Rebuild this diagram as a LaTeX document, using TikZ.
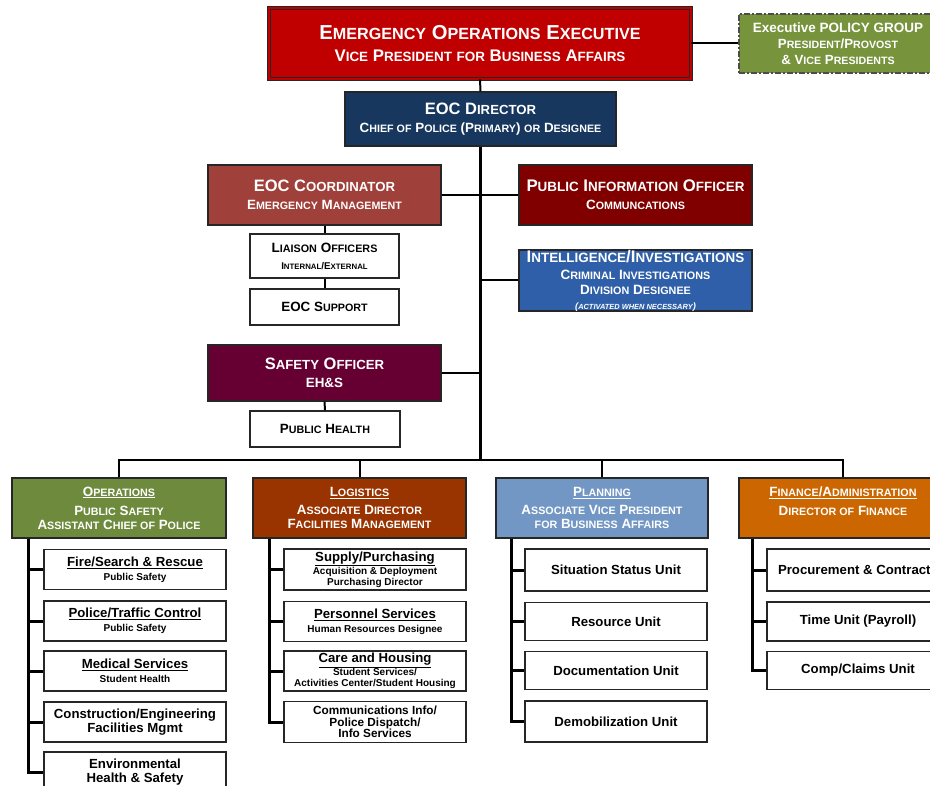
\documentclass[tikz,border=0pt]{standalone}
\usepackage{fontspec}
\setmainfont{Liberation Sans}
\usepackage{graphicx}
\usetikzlibrary{positioning}

\definecolor{execred}{HTML}{C00000}
\definecolor{policygreen}{HTML}{77933C}
\definecolor{dirnavy}{HTML}{17375E}
\definecolor{coordred}{HTML}{A0403A}
\definecolor{piored}{HTML}{800000}
\definecolor{intelblue}{HTML}{2E5FA8}
\definecolor{safetyplum}{HTML}{660033}
\definecolor{opsgreen}{HTML}{6E8B3D}
\definecolor{logbrown}{HTML}{993300}
\definecolor{planblue}{HTML}{7397C4}
\definecolor{finorange}{HTML}{CC6600}
\definecolor{edgegray}{HTML}{262626}

% fake small caps
\newcommand\sm[1]{\scalebox{0.8}{#1}}
\newcommand\fsz[1]{\fontsize{#1}{#1}\selectfont}

\tikzset{
  hdr/.style={draw=edgegray, line width=1.2pt, text=white, inner sep=0pt,
    align=center, font=\bfseries},
  sect/.style={hdr, minimum height=60pt,
    font=\bfseries\fontsize{13.4}{14}\selectfont},
  unit/.style={draw=edgegray, line width=1.2pt, fill=white, inner sep=0pt,
    minimum width=182pt, minimum height=40pt, align=center,
    font=\bfseries\fontsize{13.2}{14}\selectfont},
  link/.style={line width=2pt},
  trunk/.style={line width=2.8pt},
  rail/.style={line width=3pt, line join=miter},
}

\begin{document}
\begin{tikzpicture}[x=1pt, y=-1pt]
    \useasboundingbox (0,0) rectangle (930,786);
    \clip (0,0) rectangle (930,786);
    \fill[white] (0,0) rectangle (930,786);

    % top level
    \node[hdr, fill=execred, draw=black!85, double=execred, double distance=2pt,
      line width=0.9pt, minimum width=422pt, minimum height=71pt,
      font=\bfseries\fontsize{20.2}{22}\selectfont] (exec) at (480,43.5)
      {E\sm{MERGENCY} O\sm{PERATIONS} E\sm{XECUTIVE}\\
       {\fsz{16.8}V\sm{ICE} P\sm{RESIDENT} \sm{FOR} B\sm{USINESS} A\sm{FFAIRS}}};
    \node[hdr, fill=policygreen, draw=black!70, line width=1.2pt,
      dash pattern=on 6pt off 2pt on 2pt off 2pt,
      minimum width=198pt, minimum height=59pt,
      font=\bfseries\fontsize{13.5}{16}\selectfont] (policy) at (838,43.5)
      {Executive POLICY GROUP\\
       {\fsz{13.3}P\sm{RESIDENT}/P\sm{ROVOST}}\\
       {\fsz{13.3}\& V\sm{ICE} P\sm{RESIDENTS}}};
    \node[hdr, fill=dirnavy, minimum width=271pt, minimum height=54pt,
      font=\bfseries\fontsize{16.5}{18}\selectfont] (director) at (480.5,119)
      {EOC D\sm{IRECTOR}\\
       {\fsz{13.4}C\sm{HIEF OF} P\sm{OLICE} (P\sm{RIMARY}) \sm{OR} D\sm{ESIGNEE}}};

    % command staff
    \node[hdr, fill=coordred, minimum width=233pt, minimum height=60pt,
      font=\bfseries\fontsize{16.5}{18}\selectfont] (coord) at (324.5,195)
      {EOC C\sm{OORDINATOR}\\
       {\fsz{13.4}E\sm{MERGENCY} M\sm{ANAGEMENT}}};
    \node[hdr, fill=piored, minimum width=233pt, minimum height=60pt,
      font=\bfseries\fontsize{16.8}{18}\selectfont] (pio) at (635.5,195)
      {P\sm{UBLIC} I\sm{NFORMATION} O\sm{FFICER}\\
       {\fsz{13.4}C\sm{OMMUNCATIONS}}};
    \node[unit, minimum width=149pt, minimum height=44pt,
      font=\bfseries\fontsize{13.5}{17}\selectfont] (liaison) at (324.5,256)
      {L\sm{IAISON} O\sm{FFICERS}\\
       {\fsz{9.8}I\sm{NTERNAL}/E\sm{XTERNAL}}};
    \node[unit, minimum width=149pt, minimum height=36pt,
      font=\bfseries\fontsize{13.4}{14}\selectfont] (support) at (324.5,307)
      {EOC S\sm{UPPORT}};
    \node[hdr, fill=intelblue, minimum width=233pt, minimum height=60pt,
      font=\bfseries\fontsize{16.8}{15}\selectfont] (intel) at (635.5,280.5)
      {I\sm{NTELLIGENCE}/I\sm{NVESTIGATIONS}\\[2pt]
       {\fsz{13.5}C\sm{RIMINAL} I\sm{NVESTIGATIONS}}\\
       {\fsz{13.5}D\sm{IVISION} D\sm{ESIGNEE}}\\
       {\fsz{9.3}\itshape(\sm{ACTIVATED WHEN NECESSARY})}};
    \node[hdr, fill=safetyplum, minimum width=233pt, minimum height=56pt,
      font=\bfseries\fontsize{16.5}{18}\selectfont] (safety) at (324.5,373)
      {S\sm{AFETY} O\sm{FFICER}\\
       {\fsz{13.4}EH\&S}};
    \node[unit, minimum width=150pt, minimum height=36pt,
      font=\bfseries\fontsize{13.4}{14}\selectfont] (health) at (325,429)
      {P\sm{UBLIC} H\sm{EALTH}};

    % sections
    \node[sect, fill=opsgreen, minimum width=214pt] (ops) at (119,508)
      {\underline{O\sm{PERATIONS}}\\[5pt]
       P\sm{UBLIC} S\sm{AFETY}\\
       A\sm{SSISTANT} C\sm{HIEF OF} P\sm{OLICE}};
    \node[sect, fill=logbrown, minimum width=213pt] (log) at (359.5,508)
      {\underline{L\sm{OGISTICS}}\\[4pt]
       A\sm{SSOCIATE} D\sm{IRECTOR}\\
       F\sm{ACILITIES} M\sm{ANAGEMENT}};
    \node[sect, fill=planblue, minimum width=212pt] (plan) at (602,508)
      {\underline{P\sm{LANNING}}\\[4pt]
       A\sm{SSOCIATE} V\sm{ICE} P\sm{RESIDENT}\\
       \sm{FOR} B\sm{USINESS} A\sm{FFAIRS}};
    \node[sect, fill=finorange, minimum width=208pt] (fin) at (843,508)
      {\underline{F\sm{INANCE}/A\sm{DMINISTRATION}}\\[5pt]
       D\sm{IRECTOR OF} F\sm{INANCE}\\
       \mbox{}};

    % operations units
    \node[unit] (fire) at (135,569.5)
      {\underline{Fire/Search \& Rescue}\\{\fsz{10}Public Safety}};
    \node[unit] (police) at (135,621)
      {\underline{Police/Traffic Control}\\{\fsz{10}Public Safety}};
    \node[unit] (medical) at (135,671)
      {\underline{Medical Services}\\{\fsz{10}Student Health}};
    \node[unit] (constr) at (135,722)
      {Construction/Engineering\\Facilities Mgmt};
    \node[unit] (env) at (135,772)
      {Environmental\\Health \& Safety};

    % logistics units
    \node[unit, minimum height=41pt] (supply) at (375,569.5)
      {\underline{Supply/Purchasing}\\[-1pt]{\fsz{10}Acquisition \& Deployment}\\[-3pt]
       {\fsz{10}Purchasing Director}};
    \node[unit] (personnel) at (375,621.5)
      {\underline{Personnel Services}\\{\fsz{10}Human Resources Designee}};
    \node[unit] (care) at (375,671)
      {\underline{Care and Housing}\\[-1pt]{\fsz{10}Student Services/}\\[-3pt]
       {\fsz{10}Activities Center/Student Housing}};
    \node[unit, minimum height=41pt, font=\bfseries\fontsize{11.8}{11.5}\selectfont]
      (comm) at (375,722)
      {Communications Info/\\Police Dispatch/\\Info Services};

    % planning units
    \node[unit, minimum height=42pt] (sitstat) at (616,570) {Situation Status Unit};
    \node[unit, minimum height=38pt] (resource) at (616,621.5) {Resource Unit};
    \node[unit, minimum height=38pt] (docu) at (616,670.5) {Documentation Unit};
    \node[unit, minimum height=41pt] (demob) at (616,721.5) {Demobilization Unit};

    % finance units
    \node[unit, minimum height=42pt] (procure) at (858,570) {Procurement \& Contracts};
    \node[unit, minimum height=39pt] (timeunit) at (858,621.5) {Time Unit (Payroll)};
    \node[unit, minimum height=38pt] (claims) at (858,670.5) {Comp/Claims Unit};

    % connectors
    \coordinate (bus) at (480.5,460);
    \draw[link] (exec.south) -- (director.north);
    \draw[link] (exec.east) -- (policy.west);
    \draw[trunk] (director.south) -- (bus);
    \draw[link] (coord.east) -- (coord.east -| bus);
    \draw[link] (pio.west) -- (pio.west -| bus);
    \draw[link] (intel.west) -- (intel.west -| bus);
    \draw[link] (safety.east) -- (safety.east -| bus);
    \draw[link] (coord.south) -- (liaison.north);
    \draw[link] (liaison.south) -- (support.north);
    \draw[link] (safety.south) -- (health.north);
    \draw[link, line join=miter] (ops.north) |- (bus) -| (fin.north);
    \draw[link] (log.north) -- (log.north |- bus);
    \draw[link] (plan.north) -- (plan.north |- bus);

    \path (ops.south) ++(-91,0) coordinate (opsrail);
    \path (log.south) ++(-90.5,0) coordinate (lograil);
    \path (plan.south) ++(-91,0) coordinate (planrail);
    \path (fin.south) ++(-91,0) coordinate (finrail);
    \foreach \u in {fire,police,medical,constr,env}
      \draw[rail] (opsrail) |- (\u.west);
    \foreach \u in {supply,personnel,care,comm}
      \draw[rail] (lograil) |- (\u.west);
    \foreach \u in {sitstat,resource,docu,demob}
      \draw[rail] (planrail) |- (\u.west);
    \foreach \u in {procure,timeunit,claims}
      \draw[rail] (finrail) |- (\u.west);
\end{tikzpicture}
\end{document}
